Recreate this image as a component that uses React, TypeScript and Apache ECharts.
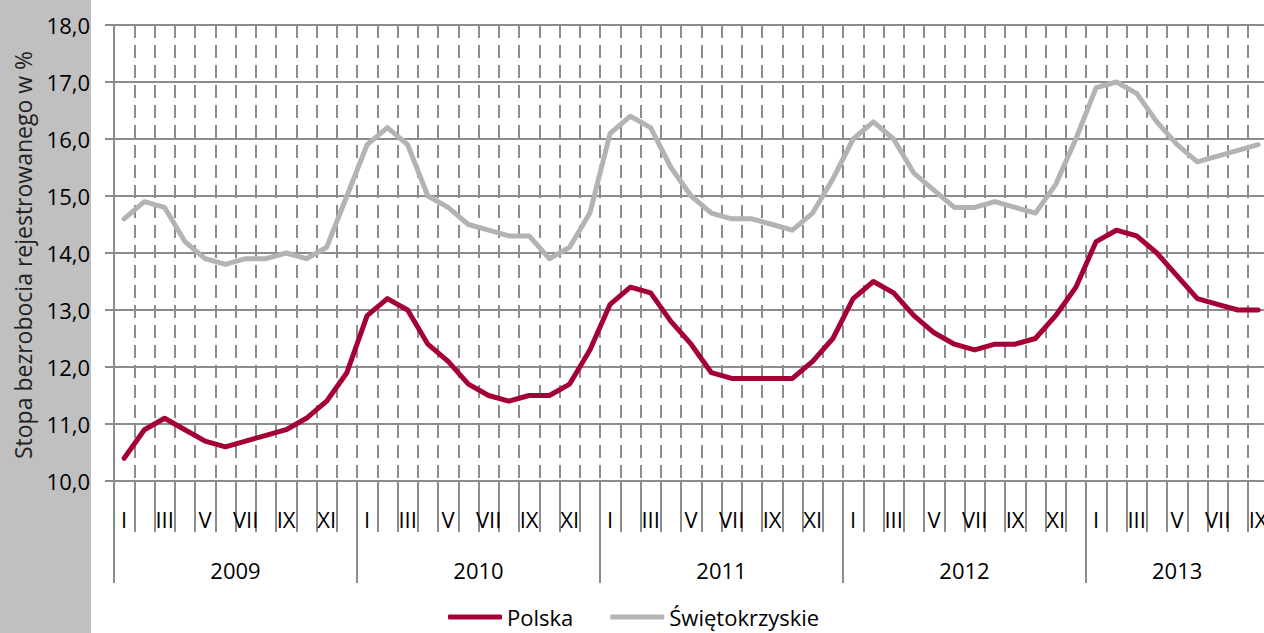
import React, { useEffect, useRef } from 'react';
import * as echarts from 'echarts';

const YEARS = ['2009', '2010', '2011', '2012', '2013'];
const MONTHS = ['I', 'II', 'III', 'IV', 'V', 'VI', 'VII', 'VIII', 'IX', 'X', 'XI', 'XII'];

const POLSKA_2009 = [10.4, 10.9, 11.1, 10.9, 10.7, 10.6, 10.7, 10.8, 10.9, 11.1, 11.4, 11.9];
const POLSKA_2010 = [12.9, 13.2, 13.0, 12.4, 12.1, 11.7, 11.5, 11.4, 11.5, 11.5, 11.7, 12.3];
const POLSKA_2011 = [13.1, 13.4, 13.3, 12.8, 12.4, 11.9, 11.8, 11.8, 11.8, 11.8, 12.1, 12.5];
const POLSKA_2012 = [13.2, 13.5, 13.3, 12.9, 12.6, 12.4, 12.3, 12.4, 12.4, 12.5, 12.9, 13.4];
const POLSKA_2013 = [14.2, 14.4, 14.3, 14.0, 13.6, 13.2, 13.1, 13.0, 13.0];

const SWIET_2009 = [14.6, 14.9, 14.8, 14.2, 13.9, 13.8, 13.9, 13.9, 14.0, 13.9, 14.1, 15.0];
const SWIET_2010 = [15.9, 16.2, 15.9, 15.0, 14.8, 14.5, 14.4, 14.3, 14.3, 13.9, 14.1, 14.7];
const SWIET_2011 = [16.1, 16.4, 16.2, 15.5, 15.0, 14.7, 14.6, 14.6, 14.5, 14.4, 14.7, 15.3];
const SWIET_2012 = [16.0, 16.3, 16.0, 15.4, 15.1, 14.8, 14.8, 14.9, 14.8, 14.7, 15.2, 16.0];
const SWIET_2013 = [16.9, 17.0, 16.8, 16.3, 15.9, 15.6, 15.7, 15.8, 15.9];

const SERIES_NAMES = ['Polska', 'Świętokrzyskie'];
const Y_MIN = 10;
const Y_MAX = 18;
const Y_INTERVAL = 1;
const Y_TITLE = 'Stopa bezrobocia rejestrowanego w %';

const POLSKA_BY_YEAR = [POLSKA_2009, POLSKA_2010, POLSKA_2011, POLSKA_2012, POLSKA_2013];
const SWIET_BY_YEAR = [SWIET_2009, SWIET_2010, SWIET_2011, SWIET_2012, SWIET_2013];

const FONT = "'Open Sans', 'Noto Sans', sans-serif";
const GRID_COLOR = '#8c8c8c';
const RED = '#A50034';
const GRAY = '#B3B3B3';

export default function App() {
  const ref = useRef<HTMLDivElement>(null);

  useEffect(() => {
    if (!ref.current) return;
    const chart = echarts.init(ref.current, undefined, { renderer: 'svg' });

    const categories: string[] = [];
    const counts = POLSKA_BY_YEAR.map((a) => a.length);
    YEARS.forEach((y, i) => {
      for (let m = 0; m < counts[i]; m++) categories.push(MONTHS[m] + ' ' + y);
    });
    const polska = POLSKA_BY_YEAR.flat();
    const swiet = SWIET_BY_YEAR.flat();
    const total = categories.length;
    const yearBounds: number[] = [];
    const yearCenters: number[] = [];
    let acc = 0;
    counts.forEach((c) => {
      yearBounds.push(acc);
      yearCenters.push(acc + c / 2);
      acc += c;
    });

    const monthW = 20.25;
    const axisText = { color: '#000', fontSize: 22, fontFamily: FONT };

    chart.setOption({
      animation: false,
      grid: { left: 114, top: 25, width: monthW * total, height: 456 },
      xAxis: [
        {
          type: 'category',
          data: categories,
          boundaryGap: true,
          axisLine: { show: true, lineStyle: { color: GRID_COLOR, width: 2 } },
          axisTick: { show: true, interval: 0, length: 51, lineStyle: { color: GRID_COLOR, width: 2 } },
          axisLabel: {
            interval: 1,
            margin: 27,
            formatter: (v: string) => v.split(' ')[0],
            ...axisText,
          },
          splitLine: { show: true, interval: 0, lineStyle: { color: GRID_COLOR, width: 2, type: [13, 7] } },
        },
        {
          type: 'value',
          min: 0,
          max: total,
          position: 'bottom',
          axisLine: { show: false },
          splitLine: { show: false },
          axisTick: { show: true, customValues: yearBounds, length: 102, lineStyle: { color: GRID_COLOR, width: 2 } },
          axisLabel: {
            customValues: yearCenters,
            margin: 78,
            formatter: (v: number) => {
              const idx = yearCenters.findIndex((c) => Math.abs(c - v) < 0.01);
              return idx >= 0 ? YEARS[idx] : '';
            },
            ...axisText,
          },
        },
      ],
      yAxis: {
        type: 'value',
        min: Y_MIN,
        max: Y_MAX,
        interval: Y_INTERVAL,
        axisLine: { show: true, lineStyle: { color: GRID_COLOR, width: 2 } },
        axisTick: { show: true, length: 9, lineStyle: { color: GRID_COLOR, width: 2 } },
        axisLabel: {
          margin: 24,
          formatter: (v: number) => v.toFixed(1).replace('.', ','),
          ...axisText,
        },
        splitLine: { show: true, lineStyle: { color: GRID_COLOR, width: 2 } },
      },
      legend: {
        left: 448,
        top: 606,
        padding: 0,
        icon: 'roundRect',
        itemWidth: 54,
        itemHeight: 5,
        itemGap: 37,
        textStyle: { color: '#000', fontSize: 22, fontFamily: FONT },
        data: SERIES_NAMES,
      },
      graphic: [
        {
          type: 'text',
          x: 23,
          y: 255,
          rotation: Math.PI / 2,
          style: {
            text: Y_TITLE,
            fontSize: 23,
            fontFamily: FONT,
            fill: '#222',
            align: 'center',
            verticalAlign: 'middle',
          },
        },
      ],
      series: [
        {
          name: SERIES_NAMES[0],
          type: 'line',
          data: polska,
          symbol: 'none',
          lineStyle: { color: RED, width: 5, join: 'round', cap: 'round' },
          itemStyle: { color: RED },
        },
        {
          name: SERIES_NAMES[1],
          type: 'line',
          data: swiet,
          symbol: 'none',
          lineStyle: { color: GRAY, width: 5, join: 'round', cap: 'round' },
          itemStyle: { color: GRAY },
        },
      ],
    });

    return () => chart.dispose();
  }, []);

  return (
    <div
      style={{
        position: 'fixed',
        left: 0,
        top: 0,
        width: 1264,
        height: 633,
        overflow: 'hidden',
        background: '#ffffff',
      }}
    >
      <div
        ref={ref}
        style={{
          position: 'absolute',
          left: 0,
          top: 0,
          width: 1280,
          height: 633,
          background: 'linear-gradient(to right, #c0c0c0 0px, #c0c0c0 91px, #ffffff 91px)',
        }}
      />
    </div>
  );
}
